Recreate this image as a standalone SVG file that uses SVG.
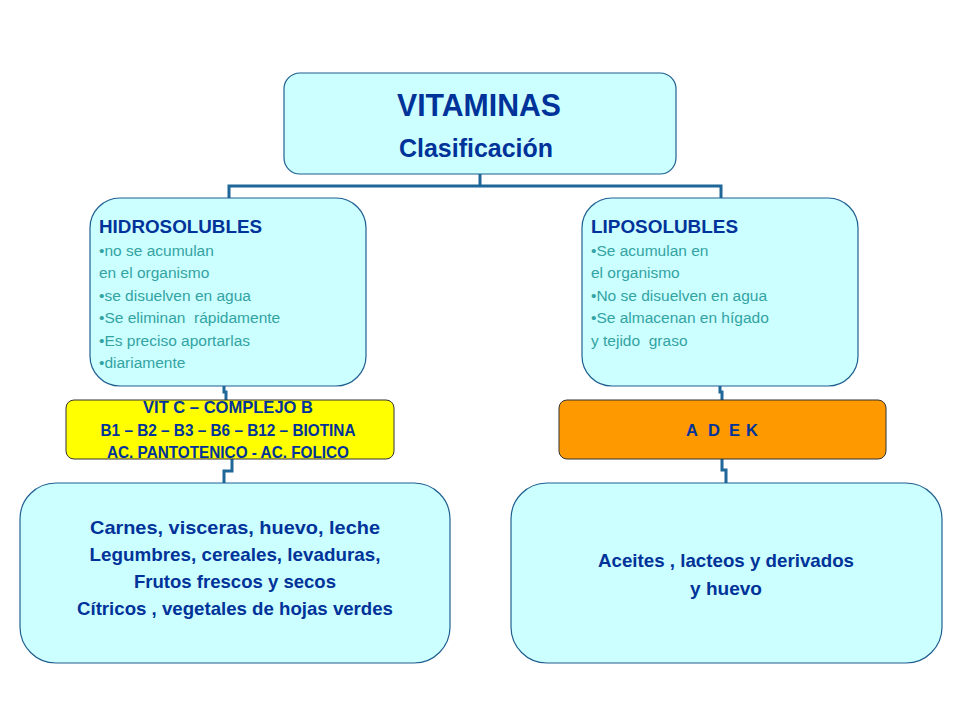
<svg xmlns="http://www.w3.org/2000/svg" width="960" height="720" viewBox="0 0 960 720">
<style>
.box{fill:#ccffff;stroke:#1f5f8f;stroke-width:1.2}
.conn{fill:none;stroke:#1f6699;stroke-width:3}
.t{font-family:"Liberation Sans",Arial,sans-serif;font-weight:bold;fill:#003399}
.b{font-family:"Liberation Sans",Arial,sans-serif;fill:#33a3a3;font-size:15.5px}
</style>
<rect width="960" height="720" fill="#ffffff"/>
<g id="connectors">
<path class="conn" d="M480,174 V186 M229,200 V186 H721 V200"/>
<path class="conn" d="M224,386 V392 H226 V400"/>
<path class="conn" d="M232,459 V471 H224 V484"/>
<path class="conn" d="M720,386 V392 H722 V400"/>
<path class="conn" d="M722,459 V470 H726 V484"/>
</g>
<g id="vitaminas">
<rect class="box" x="284" y="73" width="392" height="101" rx="16"/>
<text class="t" x="479" y="116" font-size="32" text-anchor="middle" textLength="164" lengthAdjust="spacingAndGlyphs">VITAMINAS</text>
<text class="t" x="476" y="157" font-size="26" text-anchor="middle" textLength="154" lengthAdjust="spacingAndGlyphs">Clasificación</text>
</g>
<g id="hidrosolubles">
<rect class="box" x="90" y="198" width="276" height="188" rx="30"/>
<text class="t" x="99" y="233" font-size="19" textLength="163" lengthAdjust="spacingAndGlyphs">HIDROSOLUBLES</text>
<text class="b" x="99" y="256">•no se acumulan</text>
<text class="b" x="99" y="278">en el organismo</text>
<text class="b" x="99" y="301">•se disuelven en agua</text>
<text class="b" x="99" y="323" xml:space="preserve">•Se eliminan  rápidamente</text>
<text class="b" x="99" y="346">•Es preciso aportarlas</text>
<text class="b" x="99" y="368">•diariamente</text>
</g>
<g id="liposolubles">
<rect class="box" x="582" y="198" width="276" height="188" rx="30"/>
<text class="t" x="591" y="233" font-size="19" textLength="147" lengthAdjust="spacingAndGlyphs">LIPOSOLUBLES</text>
<text class="b" x="591" y="256">•Se acumulan en</text>
<text class="b" x="591" y="278">el organismo</text>
<text class="b" x="591" y="301">•No se disuelven en agua</text>
<text class="b" x="591" y="323">•Se almacenan en hígado</text>
<text class="b" x="591" y="346" xml:space="preserve">y tejido  graso</text>
</g>
<g id="hidro-vitaminas">
<rect x="66" y="400" width="328" height="59" rx="8" fill="#ffff00" stroke="#333333" stroke-width="1"/>
<text class="t" x="228" y="413" font-size="16.5" text-anchor="middle" textLength="170" lengthAdjust="spacingAndGlyphs">VIT C – COMPLEJO B</text>
<text class="t" x="228" y="436" font-size="16.5" text-anchor="middle" textLength="255" lengthAdjust="spacingAndGlyphs">B1 – B2 – B3 – B6 – B12 – BIOTINA</text>
<text class="t" x="228" y="458" font-size="16.5" text-anchor="middle" textLength="242" lengthAdjust="spacingAndGlyphs">AC. PANTOTENICO - AC. FOLICO</text>
</g>
<g id="lipo-vitaminas">
<rect x="559" y="400" width="327" height="59" rx="8" fill="#ff9900" stroke="#333333" stroke-width="1"/>
<text class="t" x="686 708 729 746" y="436" font-size="16.5">ADEK</text>
</g>
<g id="hidro-alimentos">
<rect class="box" x="20" y="483" width="430" height="180" rx="36"/>
<text class="t" x="235" y="534" font-size="18.5" text-anchor="middle" textLength="290" lengthAdjust="spacingAndGlyphs">Carnes, visceras, huevo, leche</text>
<text class="t" x="235" y="561" font-size="18.5" text-anchor="middle" textLength="291" lengthAdjust="spacingAndGlyphs">Legumbres, cereales, levaduras,</text>
<text class="t" x="235" y="588" font-size="18.5" text-anchor="middle" textLength="202" lengthAdjust="spacingAndGlyphs">Frutos frescos y secos</text>
<text class="t" x="235" y="615" font-size="18.5" text-anchor="middle" textLength="316" lengthAdjust="spacingAndGlyphs">Cítricos , vegetales de hojas verdes</text>
</g>
<g id="lipo-alimentos">
<rect class="box" x="511" y="483" width="431" height="180" rx="36"/>
<text class="t" x="726" y="567" font-size="18.5" text-anchor="middle" textLength="256" lengthAdjust="spacingAndGlyphs">Aceites , lacteos y derivados</text>
<text class="t" x="726" y="595" font-size="18.5" text-anchor="middle" textLength="72" lengthAdjust="spacingAndGlyphs">y huevo</text>
</g>
</svg>
